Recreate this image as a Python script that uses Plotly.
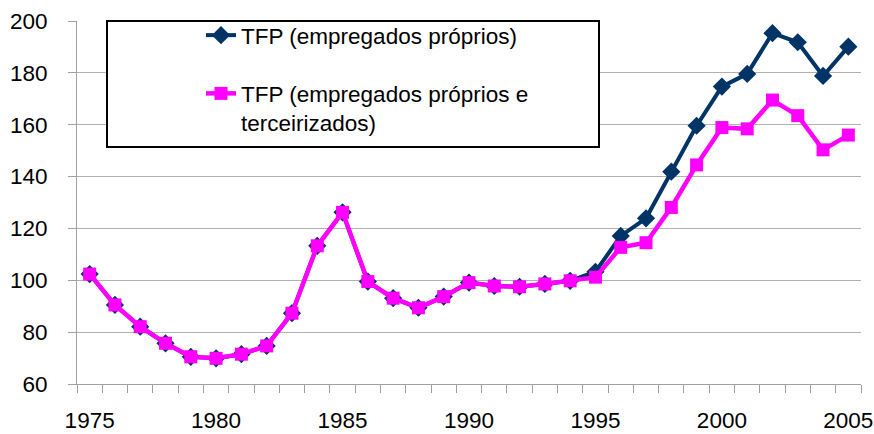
import plotly.graph_objects as go

years = list(range(1975, 2006))
tfp_proprios = [102.4, 90.5, 82.1, 75.7, 70.5, 69.9, 71.5, 74.7, 87.3, 113.3,
                126.2, 99.5, 93.1, 89.4, 93.7, 99.1, 97.8, 97.5, 98.6, 99.8,
                103.3, 117.1, 123.9, 141.9, 159.6, 174.7, 179.6, 195.3, 191.8, 178.8,
                190.1]
tfp_terceirizados = [102.4, 90.5, 82.1, 75.7, 70.5, 69.9, 71.5, 74.7, 87.3, 113.3,
                     126.2, 99.5, 93.1, 89.4, 93.7, 99.1, 97.8, 97.5, 98.6, 99.8,
                     101.2, 112.7, 114.5, 128.1, 144.5, 158.9, 158.4, 169.5, 163.5, 150.3,
                     156.0]
name1 = "TFP (empregados próprios)"
name2 = "TFP (empregados próprios e<br>terceirizados)"
x_tick_years = [1975, 1980, 1985, 1990, 1995, 2000, 2005]
y_ticks = [60, 80, 100, 120, 140, 160, 180, 200]

FONT = "Liberation Sans, Arial, sans-serif"
FS = 22.5

fig = go.Figure()
fig.add_trace(go.Scatter(
    x=years, y=tfp_proprios, name=name1, mode="lines+markers",
    line=dict(color="#003366", width=4),
    marker=dict(symbol="diamond", size=14, color="#003366"),
    legendgroup="a",
))
fig.add_trace(go.Scatter(
    x=years, y=tfp_terceirizados, name=name2, mode="lines+markers",
    line=dict(color="#FF00FF", width=4.5),
    marker=dict(symbol="square", size=13, color="#FF00FF"),
    legendgroup="b",
))

fig.add_shape(type="rect", xref="paper", yref="paper",
              x0=(107 - 77) / 784, x1=(599 - 77) / 784,
              y0=(384 - 147) / 363, y1=1.0,
              line=dict(color="black", width=2), fillcolor="white", layer="above")

fig.update_layout(
    width=874, height=434,
    margin=dict(l=77, r=13, t=21, b=50, autoexpand=False),
    paper_bgcolor="white", plot_bgcolor="white",
    font=dict(family=FONT, size=FS, color="black"),
    showlegend=True,
    legend=dict(
        x=(201 - 77) / 784, xanchor="left", y=1.0 + 7 / 363, yanchor="top",
        bgcolor="rgba(0,0,0,0)", borderwidth=0,
        font=dict(family=FONT, size=FS, color="black"),
        valign="top", tracegroupgap=26, traceorder="grouped",
    ),
    xaxis=dict(
        range=[1974.5, 2005.5], tickvals=x_tick_years, automargin=False,
        ticks="", showgrid=False, zeroline=False,
        showline=True, linecolor="#a0a0a0", linewidth=1,
        ticklabelstandoff=16,
        minor=dict(tick0=1974.5, dtick=1, ticks="outside", ticklen=8,
                   tickcolor="#a0a0a0", tickwidth=1, showgrid=False),
        tickfont=dict(family=FONT, size=FS),
    ),
    yaxis=dict(
        range=[60, 200], tickvals=y_ticks, automargin=False,
        ticks="outside", ticklen=8, tickcolor="#a0a0a0",
        showgrid=True, gridcolor="#b0b0b0", gridwidth=1, zeroline=False,
        showline=True, linecolor="#a0a0a0", linewidth=1,
        ticklabelstandoff=16,
        tickfont=dict(family=FONT, size=FS),
    ),
)

fig.write_html("out.html", config={"displayModeBar": False},
               post_script="document.body.style.margin='0px';")
